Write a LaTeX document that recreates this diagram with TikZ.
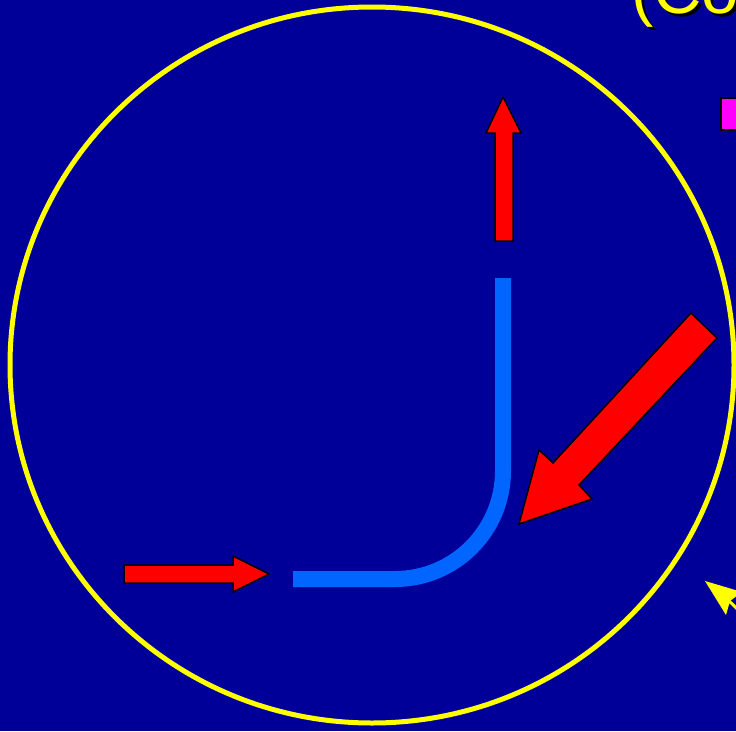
\documentclass[tikz,border=0pt]{standalone}
\usepackage{fontspec}
\setmainfont{Liberation Sans}
\definecolor{bgblue}{HTML}{000099}
\definecolor{pipeblue}{HTML}{0066FF}
\definecolor{yel}{HTML}{FFFF00}
\definecolor{mag}{HTML}{FF00FF}
\tikzset{
  redarrow/.style={fill=red, draw=black, line width=1.5pt, line join=miter},
  pipe/.style={draw=pipeblue, line width=16pt},
}
\begin{document}
\begin{tikzpicture}[x=1pt,y=-1pt]
\useasboundingbox (0,0) rectangle (736,731);
\begin{scope}
\clip (0,0) rectangle (736,731);
\fill[bgblue] (0,0) rectangle (736,731);
% title text (cut off)
\node[anchor=base west, inner sep=0, text=black, font=\fontsize{67}{70}\selectfont] (shadow) at (634,16) {(Cou};
\node[anchor=base west, inner sep=0, text=yel, font=\fontsize{67}{70}\selectfont] (title) at (631,13) {(Cou};
% magenta bullet
\draw[fill=mag, draw=black, line width=2pt] (721,98) rectangle (755,130);
% yellow circle
\draw[yel, line width=5pt] (372,365) ellipse [x radius=362, y radius=358];
% blue pipe
\draw[pipe] (503,278) -- (503,471) arc[start angle=0, end angle=90, radius=108] -- (293,579);
% red up arrow
\draw[redarrow] (495,241) -- (495,133) -- (486,133) -- (503,97) -- (521,133) -- (513,133) -- (513,241) -- cycle;
% red left arrow
\draw[redarrow] (124,565) -- (233,565) -- (233,556) -- (269,574) -- (233,592) -- (233,583) -- (124,583) -- cycle;
% big diagonal arrow
\draw[redarrow] (691,313) -- (717,338) -- (579,485) -- (592,499) -- (519,524) -- (539,450) -- (553,463) -- cycle;
% yellow arrow at bottom right
\draw[yel, line width=3pt] (728,600) -- (780,650);
\fill[yel] (705,581) -- (742,592) -- (730,601) -- (726,615) -- cycle;
\end{scope}
\end{tikzpicture}
\end{document}
